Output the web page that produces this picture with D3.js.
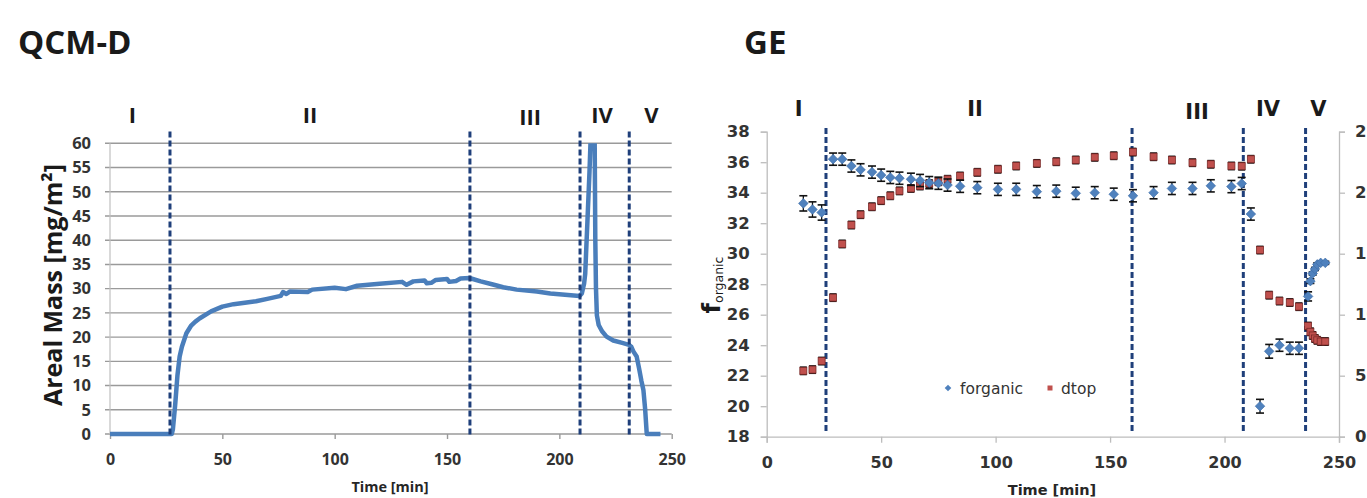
<!DOCTYPE html>
<html>
<head>
<meta charset="utf-8">
<script src="https://cdn.jsdelivr.net/npm/d3@7"></script>
<style>
  html, body { margin: 0; padding: 0; background: #fff; }
  svg { display: block; }
</style>
</head>
<body>
<svg id="chart" width="1367" height="498"></svg>
<script>
// ---------- DATA ----------
// QCM-D areal mass trace (time [min], mass [mg/m²])
const qcmTime = [0, 27.5, 28, 29, 30, 31, 32, 34, 36, 38, 40, 45, 50, 55, 60, 65, 70, 76, 77, 78.5, 80, 88, 90, 100, 105, 110, 120, 130, 132, 135, 140, 141, 143, 145, 150, 151, 154, 156, 160, 165, 170, 175, 181, 190, 196, 209, 210, 211, 211.5, 212.5, 213.4, 214, 215.7, 216, 216.3, 216.7, 217.5, 219, 221, 224, 228, 231, 232, 233, 234.4, 235.5, 236.5, 237.4, 238.2, 238.9, 245];
const qcmMass = [0, 0, 1, 6, 12, 16, 18, 20.8, 22.3, 23.2, 23.9, 25.3, 26.3, 26.8, 27.1, 27.4, 27.9, 28.5, 29.3, 28.9, 29.4, 29.3, 29.8, 30.2, 29.9, 30.6, 31.0, 31.4, 30.8, 31.5, 31.7, 31.1, 31.2, 31.8, 32.0, 31.4, 31.6, 32.1, 32.2, 31.5, 30.9, 30.3, 29.8, 29.4, 29.0, 28.5, 29, 31, 33, 44, 54, 62, 62, 40, 30, 24.5, 22.5, 21.2, 20.1, 19.3, 18.8, 18.4, 18, 17, 16, 13.5, 11, 9.1, 5, 0, 0];

// GE data
const geTime = [16, 20, 24, 29, 33, 37, 41, 46, 50, 54, 58, 63, 67, 71, 75, 79, 84.5, 92, 101, 109, 118, 126.5, 135, 143.3, 151.6, 160, 169, 177, 186, 194, 203, 207.5, 211.5, 215.5, 219.5, 224, 228.5, 232.5, 236.5, 237.5, 238.5, 239.5, 240.5, 242, 244];
const forganic = [33.3, 32.9, 32.7, 36.2, 36.2, 35.75, 35.5, 35.35, 35.15, 35.0, 34.95, 34.88, 34.8, 34.66, 34.62, 34.5, 34.42, 34.33, 34.22, 34.22, 34.07, 34.1, 33.96, 34.0, 33.9, 33.8, 34.0, 34.28, 34.28, 34.45, 34.4, 34.6, 32.6, 20.0, 23.6, 24.0, 23.8, 23.8, 27.2, 28.2, 28.7, 29.0, 29.3, 29.4, 29.4];
const forganicErr = [0.5, 0.5, 0.5, 0.4, 0.4, 0.4, 0.4, 0.4, 0.4, 0.4, 0.4, 0.4, 0.4, 0.4, 0.4, 0.4, 0.4, 0.4, 0.4, 0.4, 0.4, 0.4, 0.4, 0.4, 0.4, 0.4, 0.4, 0.4, 0.4, 0.4, 0.4, 0.4, 0.4, 0.45, 0.45, 0.4, 0.4, 0.4, 0.3, 0.15, 0.1, 0.1, 0.1, 0.1, 0.1];
const dtop = [5.4, 5.5, 6.2, 11.4, 15.8, 17.35, 18.2, 18.85, 19.35, 19.75, 20.15, 20.35, 20.55, 20.75, 20.9, 21.1, 21.37, 21.67, 21.92, 22.19, 22.4, 22.54, 22.68, 22.9, 23.03, 23.33, 22.95, 22.68, 22.46, 22.33, 22.19, 22.17, 22.74, 15.3, 11.6, 11.12, 11.0, 10.66, 9.07, 8.6, 8.3, 8.05, 7.9, 7.8, 7.8];
const dtopErr = 0.3;

// Phase markers
const phaseLabels = ["I", "II", "III", "IV", "V"];
const phaseLabelTimesL = [10, 89, 187, 219, 241];
const phaseLabelTimesR = [14, 91, 188, 219, 241];
const phaseBoundsL = [26.7, 160.2, 209.2, 231.1];
const phaseBoundsR = [25.9, 159.6, 208.2, 235.4];

// Tick values
const xTicks = [0, 50, 100, 150, 200, 250];
const yTicksL = [0, 5, 10, 15, 20, 25, 30, 35, 40, 45, 50, 55, 60];
const yTicksGE = [18, 20, 22, 24, 26, 28, 30, 32, 34, 36, 38];
const yTicksGE2 = [0, 5, 10, 15, 20, 25];

// ---------- DRAW ----------
const svg = d3.select("#chart");
svg.append("rect").attr("width", 1367).attr("height", 498).attr("fill", "#fff");

const FL = "'Open Sans', sans-serif";
const FR = "'DejaVu Sans', sans-serif";
const dashColor = "#1f3f7a";
const lineBlue = "#4a7ebb";

// ===== Left: QCM-D =====
const xL = d3.scaleLinear().domain([0, 250]).range([110, 671.7]);
const yL = d3.scaleLinear().domain([0, 60]).range([434, 143.3]);

svg.append("text").attr("x", 18).attr("y", 54)
  .attr("font-family", FL).attr("font-weight", 700).attr("font-size", 33)
  .attr("fill", "#1a1a1a").text("QCM-D");

const gL = svg.append("g");
// gridlines
gL.append("g").selectAll("line").data(yTicksL).join("line")
  .attr("x1", xL(0) - 5).attr("x2", xL(250))
  .attr("y1", d => yL(d)).attr("y2", d => yL(d))
  .attr("stroke", "#9a9a9a").attr("stroke-width", 1.4);
// y axis line
gL.append("line").attr("x1", xL(0)).attr("x2", xL(0)).attr("y1", yL(60)).attr("y2", yL(0))
  .attr("stroke", "#c0c0c0").attr("stroke-width", 1.2);

const yAxL = gL.append("g").attr("transform", `translate(${xL(0)},0)`)
  .call(d3.axisLeft(yL).tickValues(yTicksL).tickSize(0).tickPadding(19));
yAxL.select(".domain").remove();
yAxL.selectAll("text").attr("font-family", FL).attr("font-weight", 700)
  .attr("font-size", 16.5).attr("fill", "#333");

const xAxL = gL.append("g").attr("transform", `translate(0,${yL(0)})`)
  .call(d3.axisBottom(xL).tickValues(xTicks).tickSize(5).tickPadding(15));
xAxL.select(".domain").remove();
xAxL.selectAll("line").attr("stroke", "#9a9a9a").attr("stroke-width", 1.4);
xAxL.selectAll("text").attr("font-family", FL).attr("font-weight", 700)
  .attr("font-size", 16).attr("fill", "#333");

gL.append("text").attr("x", 390).attr("y", 492).attr("text-anchor", "middle")
  .attr("font-family", FL).attr("font-weight", 700).attr("font-size", 14.5)
  .attr("fill", "#262626").text("Time [min]");

gL.append("text")
  .attr("transform", `translate(62,${285}) rotate(-90)`)
  .attr("text-anchor", "middle")
  .attr("font-family", FL).attr("font-weight", 700).attr("font-size", 25)
  .attr("fill", "#1a1a1a").text("Areal Mass  [mg/m²]");

// clip
svg.append("clipPath").attr("id", "clipL").append("rect")
  .attr("x", xL(0)).attr("y", yL(60)).attr("width", xL(250) - xL(0)).attr("height", yL(0) - yL(60) + 3);

const qcmData = qcmTime.map((t, i) => [t, qcmMass[i]]);
gL.append("path").datum(qcmData)
  .attr("clip-path", "url(#clipL)")
  .attr("fill", "none").attr("stroke", lineBlue).attr("stroke-width", 4.5)
  .attr("stroke-linejoin", "round")
  .attr("d", d3.line().x(d => xL(d[0])).y(d => yL(d[1])));

// dashed phase lines
gL.append("g").selectAll("line").data(phaseBoundsL).join("line")
  .attr("x1", d => xL(d)).attr("x2", d => xL(d))
  .attr("y1", 131.5).attr("y2", 436)
  .attr("stroke", dashColor).attr("stroke-width", 3).attr("stroke-dasharray", "6,3");

gL.append("g").selectAll("text").data(phaseLabels).join("text")
  .attr("x", (d, i) => xL(phaseLabelTimesL[i])).attr("y", (d, i) => i === 2 ? 125 : 123)
  .attr("text-anchor", "middle")
  .attr("font-family", FL).attr("font-weight", 700).attr("font-size", 22)
  .attr("fill", "#1a1a1a").text(d => d);

// ===== Right: GE =====
const xR = d3.scaleLinear().domain([0, 250]).range([766.7, 1339]);
const yR = d3.scaleLinear().domain([18, 38]).range([436.7, 131.7]);
const yR2 = d3.scaleLinear().domain([0, 25]).range([436.7, 131.7]);

svg.append("text").attr("x", 744).attr("y", 54)
  .attr("font-family", FL).attr("font-weight", 700).attr("font-size", 33)
  .attr("fill", "#1a1a1a").text("GE");

const gR = svg.append("g");
const axisCol = "#bdbdbd";

const yAxR = gR.append("g").attr("transform", `translate(${xR(0)},0)`)
  .call(d3.axisLeft(yR).tickValues(yTicksGE).tickSize(6).tickPadding(11));
yAxR.select(".domain").attr("stroke", axisCol).attr("stroke-width", 1.3);
yAxR.selectAll("line").attr("stroke", axisCol).attr("stroke-width", 1.3);
yAxR.selectAll("text").attr("font-family", FR).attr("font-weight", 700)
  .attr("font-size", 16.5).attr("fill", "#333");

// right axis: its labels run past the page edge, as in the original
const yAxR2 = gR.append("g").attr("transform", `translate(${xR(250)},0)`)
  .call(d3.axisRight(yR2).tickValues(yTicksGE2).tickSize(6).tickPadding(10));
yAxR2.select(".domain").attr("stroke", axisCol).attr("stroke-width", 1.3);
yAxR2.selectAll("line").attr("stroke", axisCol).attr("stroke-width", 1.3);
yAxR2.selectAll("text").attr("font-family", FR).attr("font-weight", 700)
  .attr("font-size", 16.5).attr("fill", "#333");

const xAxR = gR.append("g").attr("transform", `translate(0,${yR(18)})`)
  .call(d3.axisBottom(xR).tickValues(xTicks).tickSize(6).tickPadding(14));
xAxR.select(".domain").attr("stroke", axisCol).attr("stroke-width", 1.3);
xAxR.selectAll("line").attr("stroke", axisCol).attr("stroke-width", 1.3);
xAxR.selectAll("text").attr("font-family", FR).attr("font-weight", 700)
  .attr("font-size", 16).attr("fill", "#333");

gR.append("text").attr("x", 1052).attr("y", 495).attr("text-anchor", "middle")
  .attr("font-family", FR).attr("font-weight", 700).attr("font-size", 14.5)
  .attr("fill", "#262626").text("Time [min]");

// y label f_organic
const yl = gR.append("text")
  .attr("transform", `translate(720,${285}) rotate(-90)`)
  .attr("text-anchor", "middle")
  .attr("font-family", FR).attr("fill", "#1a1a1a");
yl.append("tspan").attr("font-size", 24).attr("font-weight", 700).text("f");
yl.append("tspan").attr("font-size", 12.5).attr("dy", 3).text("organic");

// dashed phase lines
gR.append("g").selectAll("line").data(phaseBoundsR).join("line")
  .attr("x1", d => xR(d)).attr("x2", d => xR(d))
  .attr("y1", 128).attr("y2", 433)
  .attr("stroke", dashColor).attr("stroke-width", 3).attr("stroke-dasharray", "6,3");

gR.append("g").selectAll("text").data(phaseLabels).join("text")
  .attr("x", (d, i) => xR(phaseLabelTimesR[i])).attr("y", (d, i) => i === 2 ? 119 : 116)
  .attr("text-anchor", "middle")
  .attr("font-family", FR).attr("font-weight", 700).attr("font-size", 21)
  .attr("fill", "#1a1a1a").text(d => d);

// error bars + markers
function errBars(g, xs, ys, errs, scale, w) {
  const grp = g.append("g");
  xs.forEach((t, i) => {
    const e = Array.isArray(errs) ? errs[i] : errs;
    const x = xR(t), y1 = scale(ys[i] + e), y2 = scale(ys[i] - e);
    grp.append("line").attr("x1", x).attr("x2", x).attr("y1", y1).attr("y2", y2)
      .attr("stroke", "#111").attr("stroke-width", 1.3);
    [y1, y2].forEach(yy => grp.append("line")
      .attr("x1", x - w).attr("x2", x + w).attr("y1", yy).attr("y2", yy)
      .attr("stroke", "#111").attr("stroke-width", 1.6));
  });
}

// dtop (right axis)
errBars(gR, geTime, dtop, dtopErr, yR2, 3.5);
gR.append("g").selectAll("rect").data(geTime).join("rect")
  .attr("x", d => xR(d) - 3.5).attr("y", (d, i) => yR2(dtop[i]) - 3.5)
  .attr("width", 7).attr("height", 7)
  .attr("fill", "#c0504d").attr("stroke", "#7a2a28").attr("stroke-width", 0.8);

// forganic (left axis)
errBars(gR, geTime, forganic, forganicErr, yR, 4);
gR.append("g").selectAll("path").data(geTime).join("path")
  .attr("transform", (d, i) => `translate(${xR(d)},${yR(forganic[i])}) rotate(45)`)
  .attr("d", d3.symbol(d3.symbolSquare, 46)())
  .attr("fill", "#4f81bd").attr("stroke", "#3d6ea8").attr("stroke-width", 0.6);

// legend
const lg = gR.append("g");
lg.append("path").attr("transform", "translate(948,388) rotate(45)")
  .attr("d", d3.symbol(d3.symbolSquare, 22)()).attr("fill", "#4f81bd");
lg.append("text").attr("x", 960).attr("y", 393.5)
  .attr("font-family", FR).attr("font-size", 15.5).attr("fill", "#333").text("forganic");
lg.append("rect").attr("x", 1047.5).attr("y", 385.5).attr("width", 5).attr("height", 5).attr("fill", "#c0504d");
lg.append("text").attr("x", 1061).attr("y", 393.5)
  .attr("font-family", FR).attr("font-size", 15.5).attr("fill", "#333").text("dtop");
</script>
</body>
</html>
